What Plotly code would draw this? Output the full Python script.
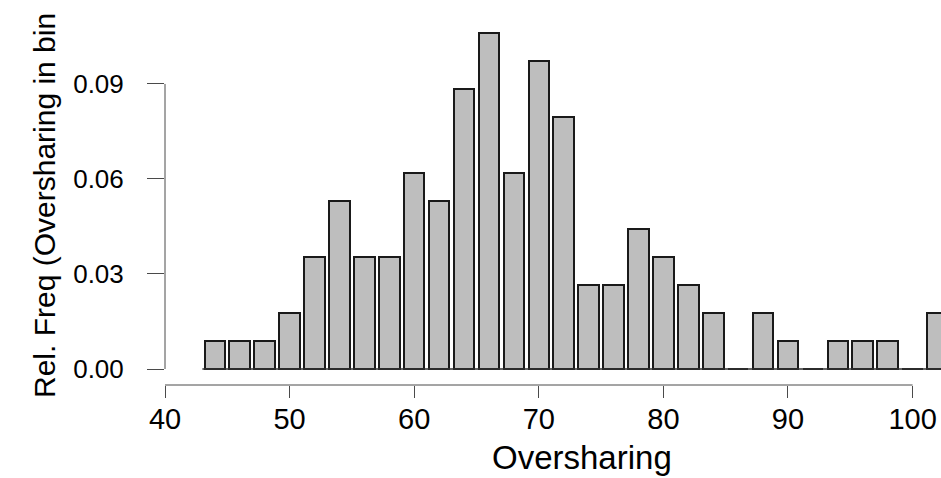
import plotly.graph_objects as go

# Bin centres (Oversharing) and relative frequencies
bin_centers = [44, 46, 48, 50, 52, 54, 56, 58, 60, 62, 64, 66, 68, 70, 72,
               74, 76, 78, 80, 82, 84, 86, 88, 90, 92, 94, 96, 98, 100, 102]
rel_freq = [0.0088, 0.0088, 0.0088, 0.0177, 0.0354, 0.0531, 0.0354, 0.0354,
            0.0619, 0.0531, 0.0885, 0.1062, 0.0619, 0.0973, 0.0796, 0.0265,
            0.0265, 0.0442, 0.0354, 0.0265, 0.0177, 0.0, 0.0177, 0.0088,
            0.0, 0.0088, 0.0088, 0.0088, 0.0, 0.0177]
bin_size = 2

x_ticks = [40, 50, 60, 70, 80, 90, 100]
y_ticks = [0.00, 0.03, 0.06, 0.09]
y_tick_labels = ["0.00", "0.03", "0.06", "0.09"]

FONT = "Liberation Sans, Arial, sans-serif"
AXIS_COLOR = "#4a4a4a"

fig = go.Figure()

# baseline under the bars (visible for empty bins)
fig.add_trace(go.Scatter(
    x=[bin_centers[0] - bin_size / 2, bin_centers[-1] + bin_size / 2],
    y=[0, 0], mode="lines",
    line=dict(color="#333333", width=1.5),
    hoverinfo="skip", showlegend=False,
))

fig.add_trace(go.Bar(
    x=bin_centers, y=rel_freq, width=bin_size * 0.825,
    marker=dict(color="#bebebe", line=dict(color="#1a1a1a", width=2)),
    showlegend=False,
))

# R-style axis lines spanning only the tick range
fig.add_shape(type="line", xref="x", yref="paper",
              x0=x_ticks[0], x1=x_ticks[-1], y0=0, y1=0,
              line=dict(color=AXIS_COLOR, width=1))
fig.add_shape(type="line", xref="paper", yref="y",
              x0=0, x1=0, y0=y_ticks[0], y1=y_ticks[-1],
              line=dict(color=AXIS_COLOR, width=1))

fig.add_annotation(text="Oversharing", xref="paper", yref="paper",
                   x=0.537, y=-0.136, xanchor="center", yanchor="top",
                   showarrow=False, font=dict(family=FONT, size=33, color="black"))
fig.add_annotation(text="Rel. Freq (Oversharing in bin", xref="paper", yref="paper",
                   x=-0.1546, y=0.465, xanchor="center", yanchor="middle",
                   textangle=-90, showarrow=False,
                   font=dict(family=FONT, size=30, color="black"))

fig.update_layout(
    width=941, height=478,
    margin=dict(l=165, r=0, t=0, b=93),
    paper_bgcolor="white", plot_bgcolor="white",
    bargap=0,
    font=dict(family=FONT, color="black"),
    xaxis=dict(range=[40, 102.28], tickvals=x_ticks, ticks="outside",
               ticklen=12, tickcolor=AXIS_COLOR, tickwidth=1,
               showline=False, showgrid=False, zeroline=False,
               ticklabelstandoff=-4,
               tickfont=dict(family=FONT, size=29, color="black")),
    yaxis=dict(range=[-0.00505, 0.1165], tickvals=y_ticks, ticktext=y_tick_labels,
               ticks="outside", ticklen=17, tickcolor=AXIS_COLOR, tickwidth=1,
               showline=False, showgrid=False, zeroline=False,
               ticklabelstandoff=18,
               tickfont=dict(family=FONT, size=26, color="black")),
)

fig.write_html(
    "out.html",
    config={"displayModeBar": False},
    post_script="document.body.style.margin='0';document.body.style.overflow='hidden';",
)
